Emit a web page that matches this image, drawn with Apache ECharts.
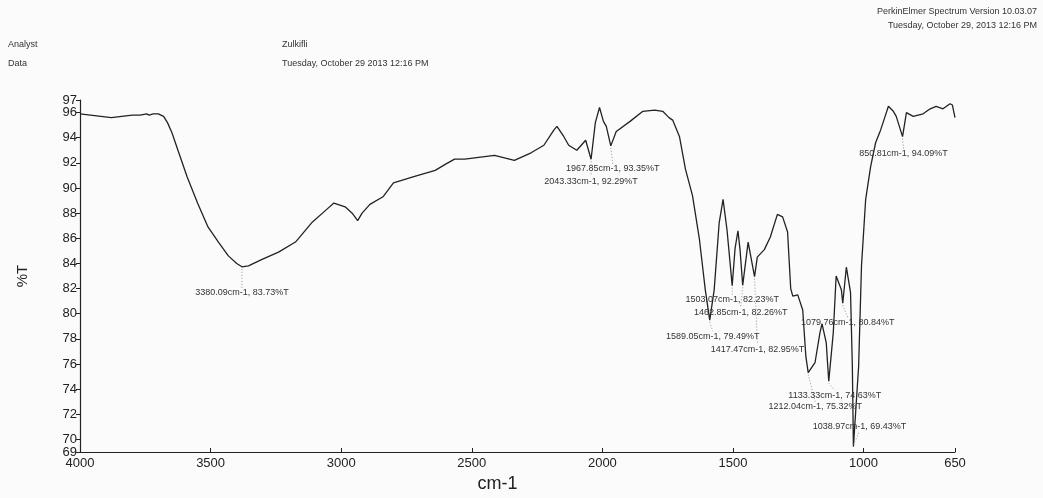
<!DOCTYPE html>
<html>
<head>
<meta charset="utf-8">
<title>FTIR spectrum</title>
<script src="https://cdn.jsdelivr.net/npm/echarts@6/dist/echarts.min.js"></script>
<style>
  html, body { margin: 0; padding: 0; background: #fbfbfb; }
  #chart { width: 1043px; height: 498px; }
</style>
</head>
<body>
<div id="chart"></div>
<script>
// Spectrum trace: wavenumber (cm-1) and transmittance (%T)
const wavenumbers = [
  4000, 3960, 3920, 3880, 3840, 3800, 3770, 3745, 3735, 3720, 3700, 3680, 3665, 3648, 3625,
  3590, 3550, 3510, 3470, 3432, 3400, 3380.09, 3355, 3305, 3240, 3175, 3110, 3050, 3028, 2985,
  2958, 2937, 2920, 2890, 2840, 2800, 2722, 2640, 2600, 2566, 2527, 2413, 2337, 2273, 2224,
  2186, 2174, 2148, 2129, 2098, 2064, 2043.33, 2027, 2011, 1996, 1985, 1967.85, 1947, 1894, 1845,
  1800, 1769, 1745, 1731, 1705, 1682, 1655, 1629, 1606, 1589.05, 1572, 1553, 1538, 1523, 1503.07,
  1492, 1481, 1473, 1462.85, 1442, 1417.47, 1407, 1380, 1357, 1330, 1310, 1291, 1279, 1271, 1252,
  1233, 1221, 1212.04, 1186, 1167, 1159, 1143, 1133.33, 1116, 1105, 1085, 1079.76, 1066, 1050, 1043,
  1038.97, 1019, 1008, 992, 973, 954, 935, 916, 905, 886, 875, 850.81, 836, 810, 772,
  745, 722, 696, 669, 660, 650
];
const transmittance = [
  95.9, 95.8, 95.7, 95.6, 95.7, 95.8, 95.8, 95.9, 95.8, 95.9, 95.9, 95.7, 95.2, 94.4, 93.0,
  90.9, 88.8, 86.9, 85.7, 84.6, 84.0, 83.73, 83.8, 84.3, 84.9, 85.7, 87.3, 88.4, 88.8, 88.5,
  88.0, 87.4, 88.0, 88.7, 89.3, 90.4, 90.9, 91.4, 91.9, 92.3, 92.3, 92.6, 92.2, 92.8, 93.4,
  94.6, 94.9, 94.1, 93.4, 93.0, 93.8, 92.29, 95.2, 96.4, 95.3, 94.9, 93.35, 94.5, 95.3, 96.1,
  96.2, 96.1, 95.6, 95.4, 94.1, 91.5, 89.4, 86.0, 81.9, 79.49, 81.9, 87.2, 89.1, 86.7, 82.23,
  85.2, 86.6, 85.1, 82.26, 85.7, 82.95, 84.5, 85.1, 86.1, 87.9, 87.7, 86.5, 82.0, 81.4, 81.5,
  80.3, 76.6, 75.32, 76.1, 78.5, 79.2, 77.7, 74.63, 78.5, 83.0, 81.9, 80.84, 83.7, 81.7, 75.8,
  69.43, 75.8, 83.8, 89.1, 91.7, 93.6, 94.6, 95.8, 96.5, 96.1, 95.7, 94.09, 96.0, 95.7, 95.9,
  96.3, 96.5, 96.3, 96.7, 96.6, 95.6
];

// Picked peaks
const peakWavenumbers = [3380.09, 2043.33, 1967.85, 1589.05, 1503.07, 1462.85, 1417.47,
  1212.04, 1133.33, 1079.76, 1038.97, 850.81];
const peakTransmittance = [83.73, 92.29, 93.35, 79.49, 82.23, 82.26, 82.95,
  75.32, 74.63, 80.84, 69.43, 94.09];

// Where each peak caption sits, relative to its peak (pixels)
const peakLabelDx = [0, 0, 2, 3, 0, -2, 3, 7, 6, 5, 6, 1];
const peakLabelDy = [26, 22, 23, 16, 14, 27, 73, 34, 14, 19, -20, 17];

// Axis ticks: even steps, plus the two range ends
const xTicks = [4000, 3500, 3000, 2500, 2000, 1500, 1000, 650];
const yTicks = [70, 72, 74, 76, 78, 80, 82, 84, 86, 88, 90, 92, 94, 96];
const yEnds = [69, 97];

const spectrum = wavenumbers.map((w, i) => [w, transmittance[i]]);
const peaks = peakWavenumbers.map((w, i) => [w, peakTransmittance[i], i]);

const FONT = '"Liberation Sans", Arial, sans-serif';
const INK = '#222';
const plain = v => String(v);

const yLabelStyle = { formatter: plain, fontFamily: FONT, fontSize: 13, color: INK, margin: 3, hideOverlap: false };

const chart = echarts.init(document.getElementById('chart'), null, { renderer: 'canvas' });

chart.setOption({
  backgroundColor: '#fbfbfb',
  animation: false,
  grid: { left: 80, right: 88, top: 100, bottom: 45 },
  xAxis: {
    type: 'value',
    inverse: true,
    min: 650,
    max: 4000,
    name: 'cm-1',
    nameLocation: 'middle',
    nameGap: 23,
    nameTextStyle: { fontFamily: FONT, fontSize: 18, color: INK, padding: [0, 40, 0, 0] },
    axisLine: { lineStyle: { color: INK, width: 1.2 } },
    axisTick: { customValues: xTicks, inside: true, length: 4, lineStyle: { color: INK } },
    axisLabel: {
      customValues: xTicks, formatter: plain, showMinLabel: true, showMaxLabel: true,
      hideOverlap: false, fontFamily: FONT, fontSize: 13, color: INK, margin: 5
    },
    splitLine: { show: false }
  },
  yAxis: [
    {
      type: 'value',
      min: 69,
      max: 97,
      name: '%T',
      nameLocation: 'middle',
      nameRotate: 90,
      nameGap: 50,
      nameTextStyle: { fontFamily: FONT, fontSize: 15, color: INK },
      axisLine: { show: true, lineStyle: { color: INK, width: 1.2 } },
      axisTick: { show: true, customValues: yTicks, length: 4, lineStyle: { color: INK } },
      axisLabel: Object.assign({ customValues: yTicks }, yLabelStyle),
      splitLine: { show: false }
    },
    {
      // range-end labels (69 and 97) on the same left edge
      type: 'value',
      position: 'left',
      offset: 0,
      min: 69,
      max: 97,
      axisLine: { show: false },
      axisTick: { show: true, customValues: yEnds, length: 4, lineStyle: { color: INK } },
      axisLabel: Object.assign({ customValues: yEnds, showMinLabel: true, showMaxLabel: true }, yLabelStyle),
      splitLine: { show: false }
    }
  ],
  series: [
    {
      type: 'line',
      data: spectrum,
      showSymbol: false,
      lineStyle: { color: INK, width: 1.3 },
      z: 3
    },
    {
      type: 'custom',
      data: peaks,
      z: 4,
      renderItem: function (params, api) {
        const w = api.value(0);
        const t = api.value(1);
        const idx = api.value(2);
        const p = api.coord([w, t]);
        const dx = peakLabelDx[idx];
        const dy = peakLabelDy[idx];
        const tx = p[0] + dx;
        const ty = p[1] + dy;
        const endY = dy > 0 ? ty - 5 : ty + 5;
        return {
          type: 'group',
          children: [
            {
              type: 'line',
              shape: { x1: p[0], y1: p[1] + (dy > 0 ? 2 : -2), x2: tx, y2: endY },
              style: { stroke: '#777', lineWidth: 0.8, lineDash: [1, 2] }
            },
            {
              type: 'text',
              x: tx,
              y: ty,
              style: {
                text: w.toFixed(2) + 'cm-1, ' + t.toFixed(2) + '%T',
                fill: '#333',
                font: '9px ' + FONT,
                align: 'center',
                verticalAlign: 'middle'
              }
            }
          ]
        };
      }
    }
  ],
  graphic: [
    { type: 'text', left: 8, top: 40, style: { text: 'Analyst', fill: '#333', font: '9px ' + FONT } },
    { type: 'text', left: 8, top: 59, style: { text: 'Data', fill: '#333', font: '9px ' + FONT } },
    { type: 'text', left: 282, top: 40, style: { text: 'Zulkifli', fill: '#333', font: '9px ' + FONT } },
    { type: 'text', left: 282, top: 59, style: { text: 'Tuesday, October 29 2013 12:16 PM', fill: '#333', font: '9px ' + FONT } },
    { type: 'text', right: 6, top: 7, style: { text: 'PerkinElmer Spectrum Version 10.03.07', fill: '#333', font: '9px ' + FONT, align: 'right' } },
    { type: 'text', right: 6, top: 21, style: { text: 'Tuesday, October 29, 2013 12:16 PM', fill: '#333', font: '9px ' + FONT, align: 'right' } }
  ]
});
</script>
</body>
</html>
